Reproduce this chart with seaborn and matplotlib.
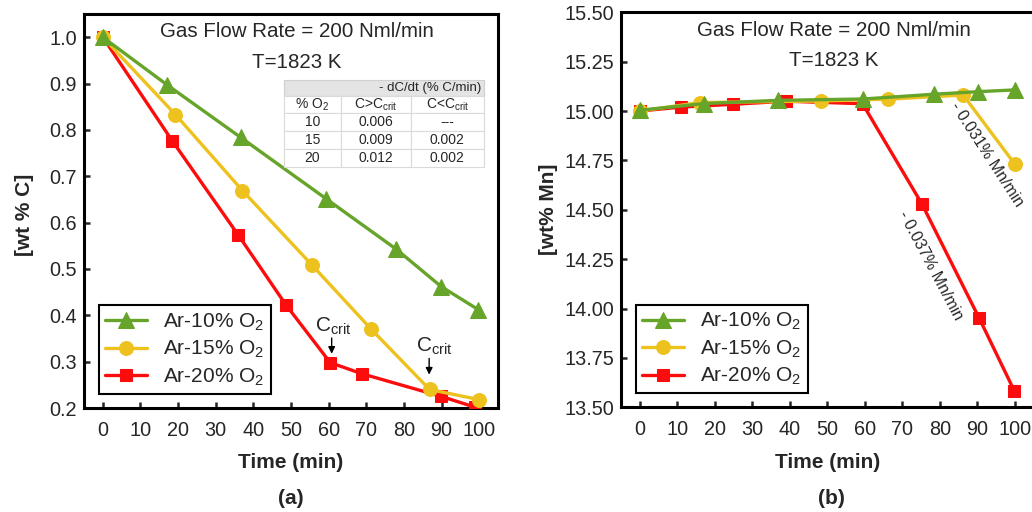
import pandas as pd
import matplotlib
matplotlib.use("Agg")
import matplotlib.pyplot as plt
import seaborn as sns
from matplotlib.patches import Rectangle

sns.set_theme(style="white")
plt.rcParams['font.family'] = ['Liberation Sans', 'DejaVu Sans']
plt.rcParams.update({'mathtext.fontset': 'custom', 'mathtext.rm': 'Liberation Sans',
                     'mathtext.it': 'Liberation Sans', 'mathtext.bf': 'Liberation Sans:bold'})

# ---- data (a): carbon ----
c_t10 = [0, 17.1, 36.6, 59.4, 77.9, 89.9, 99.8]
c_v10 = [1.0, 0.897, 0.784, 0.651, 0.543, 0.462, 0.412]
c_t15 = [0, 19.3, 37.1, 55.5, 71.3, 86.8, 100]
c_v15 = [1.0, 0.833, 0.669, 0.509, 0.370, 0.240, 0.218]
c_t20 = [0, 18.4, 36.0, 48.6, 60.4, 68.8, 89.9, 98.8]
c_v20 = [1.0, 0.777, 0.573, 0.423, 0.298, 0.274, 0.225, 0.202]

# ---- data (b): manganese ----
m_t10 = [0, 17.3, 36.8, 59.6, 78.3, 90.1, 100]
m_v10 = [15.004, 15.038, 15.054, 15.061, 15.085, 15.098, 15.107]
m_t15 = [0, 16.1, 48.4, 66.2, 86.2, 100]
m_v15 = [15.0, 15.043, 15.051, 15.06, 15.081, 14.73]
m_t20 = [0, 11.1, 24.8, 39.0, 59.4, 75.2, 90.5, 99.8]
m_v20 = [15.0, 15.02, 15.034, 15.05, 15.037, 14.53, 13.95, 13.584]

# inset table
tab_rows = [['% O$_2$', 'C>C$_{crit}$', 'C<C$_{crit}$'],
            ['10', '0.006', '---'],
            ['15', '0.009', '0.002'],
            ['20', '0.012', '0.002']]
tab_header = '- dC/dt (% C/min)'

labels = ['Ar-10% O$_2$', 'Ar-15% O$_2$', 'Ar-20% O$_2$']
colors = ['#67a42a', '#eec21e', '#fc0d0d']
markers = ['^', 'o', 's']
msizes = [12, 10, 9]

fig = plt.figure(figsize=(10.32, 5.12), dpi=100)
ax1 = fig.add_axes([0.0814, 0.2031, 0.4012, 0.7695])
ax2 = fig.add_axes([0.6015, 0.2045, 0.4002, 0.7715])


def draw(ax, series):
    # red first, green on top
    for i in [2, 1, 0]:
        t, v = series[i]
        d = pd.DataFrame({'t': t, 'v': v})
        sns.lineplot(data=d, x='t', y='v', ax=ax, color=colors[i], marker=markers[i],
                     markersize=msizes[i], markeredgecolor=colors[i], linewidth=2.4,
                     label=labels[i], zorder=3 + (2 - i))
    h, l = ax.get_legend_handles_labels()
    order = [l.index(lab) for lab in labels]
    leg = ax.legend([h[k] for k in order], labels, loc='lower left',
                    bbox_to_anchor=(0.036, 0.035), fontsize=15, frameon=True,
                    fancybox=False, edgecolor='black', framealpha=1,
                    handlelength=2.0, handletextpad=0.8, labelspacing=0.3,
                    borderpad=0.3, borderaxespad=0)
    leg.get_frame().set_linewidth(1.5)
    ax.set_xlim(-5, 105)
    ax.set_xticks(range(0, 101, 10))
    ax.set_xlabel('Time (min)', fontsize=15, fontweight='bold')
    ax.xaxis.set_label_coords(0.5, -0.115)
    ax.tick_params(axis='both', direction='in', length=4, width=1.8, labelsize=14.3,
                   left=True, bottom=True)
    ax.tick_params(axis='x', pad=9)
    ax.tick_params(axis='y', pad=5)
    for s in ax.spines.values():
        s.set_linewidth(2.2)
        s.set_color('black')
    ax.text(0.515, 0.955, 'Gas Flow Rate = 200 Nml/min', transform=ax.transAxes,
            ha='center', va='center', fontsize=14.8)
    ax.text(0.515, 0.878, 'T=1823 K', transform=ax.transAxes,
            ha='center', va='center', fontsize=14.8)


draw(ax1, [(c_t10, c_v10), (c_t15, c_v15), (c_t20, c_v20)])
ax1.set_ylim(0.2, 1.05)
ax1.set_yticks([0.2, 0.3, 0.4, 0.5, 0.6, 0.7, 0.8, 0.9, 1.0])
ax1.set_yticklabels(['0.2', '0.3', '0.4', '0.5', '0.6', '0.7', '0.8', '0.9', '1.0'])
ax1.set_ylabel('[wt % C]', fontsize=15, fontweight='bold')
ax1.yaxis.set_label_coords(-0.12, 0.49)

# C_crit markers
ax1.annotate('', xy=(60.8, 0.311), xytext=(60.8, 0.357),
             arrowprops=dict(arrowstyle='-|>', color='black', lw=1, mutation_scale=10))
ax1.text(61.2, 0.354, 'C$_{crit}$', ha='center', va='bottom', fontsize=15)
ax1.annotate('', xy=(86.7, 0.266), xytext=(86.7, 0.313),
             arrowprops=dict(arrowstyle='-|>', color='black', lw=1, mutation_scale=10))
ax1.text(88.0, 0.310, 'C$_{crit}$', ha='center', va='bottom', fontsize=15)

# inset table
tx0, tw = 0.483, 0.483
ax1.add_patch(Rectangle((tx0, 0.7926), tw, 0.0399, transform=ax1.transAxes,
                        facecolor='#e4e4e4', edgecolor='#cfcfcf', lw=0.8, zorder=6))
ax1.text(tx0 + tw - 0.006, 0.8125, tab_header, transform=ax1.transAxes,
         ha='right', va='center', fontsize=9.5, zorder=7)
tab = ax1.table(cellText=tab_rows, cellLoc='center',
                colWidths=[0.283, 0.35, 0.367],
                bbox=[tx0, 0.6124, tw, 0.1802], zorder=6)
tab.auto_set_font_size(False)
tab.set_fontsize(10)
for cell in tab.get_celld().values():
    cell.set_edgecolor('#dadada')
    cell.set_linewidth(0.8)
    cell.set_facecolor('white')

draw(ax2, [(m_t10, m_v10), (m_t15, m_v15), (m_t20, m_v20)])
ax2.set_ylim(13.5, 15.5)
ax2.set_yticks([13.5, 13.75, 14.0, 14.25, 14.5, 14.75, 15.0, 15.25, 15.5])
ax2.set_yticklabels(['13.50', '13.75', '14.00', '14.25', '14.50', '14.75', '15.00', '15.25', '15.50'])
ax2.set_ylabel('[wt% Mn]', fontsize=15, fontweight='bold')
ax2.yaxis.set_label_coords(-0.152, 0.5)

ax2.text(92.5, 14.778, '- 0.031% Mn/min', rotation=-57, ha='center', va='center', fontsize=11.5)
ax2.text(77.6, 14.217, '- 0.037% Mn/min', rotation=-62, ha='center', va='center', fontsize=11.5)

fig.text(0.2815, 0.027, '(a)', ha='center', va='center', fontsize=15, fontweight='bold')
fig.text(0.806, 0.027, '(b)', ha='center', va='center', fontsize=15, fontweight='bold')

plt.savefig('out.png', dpi=100)
